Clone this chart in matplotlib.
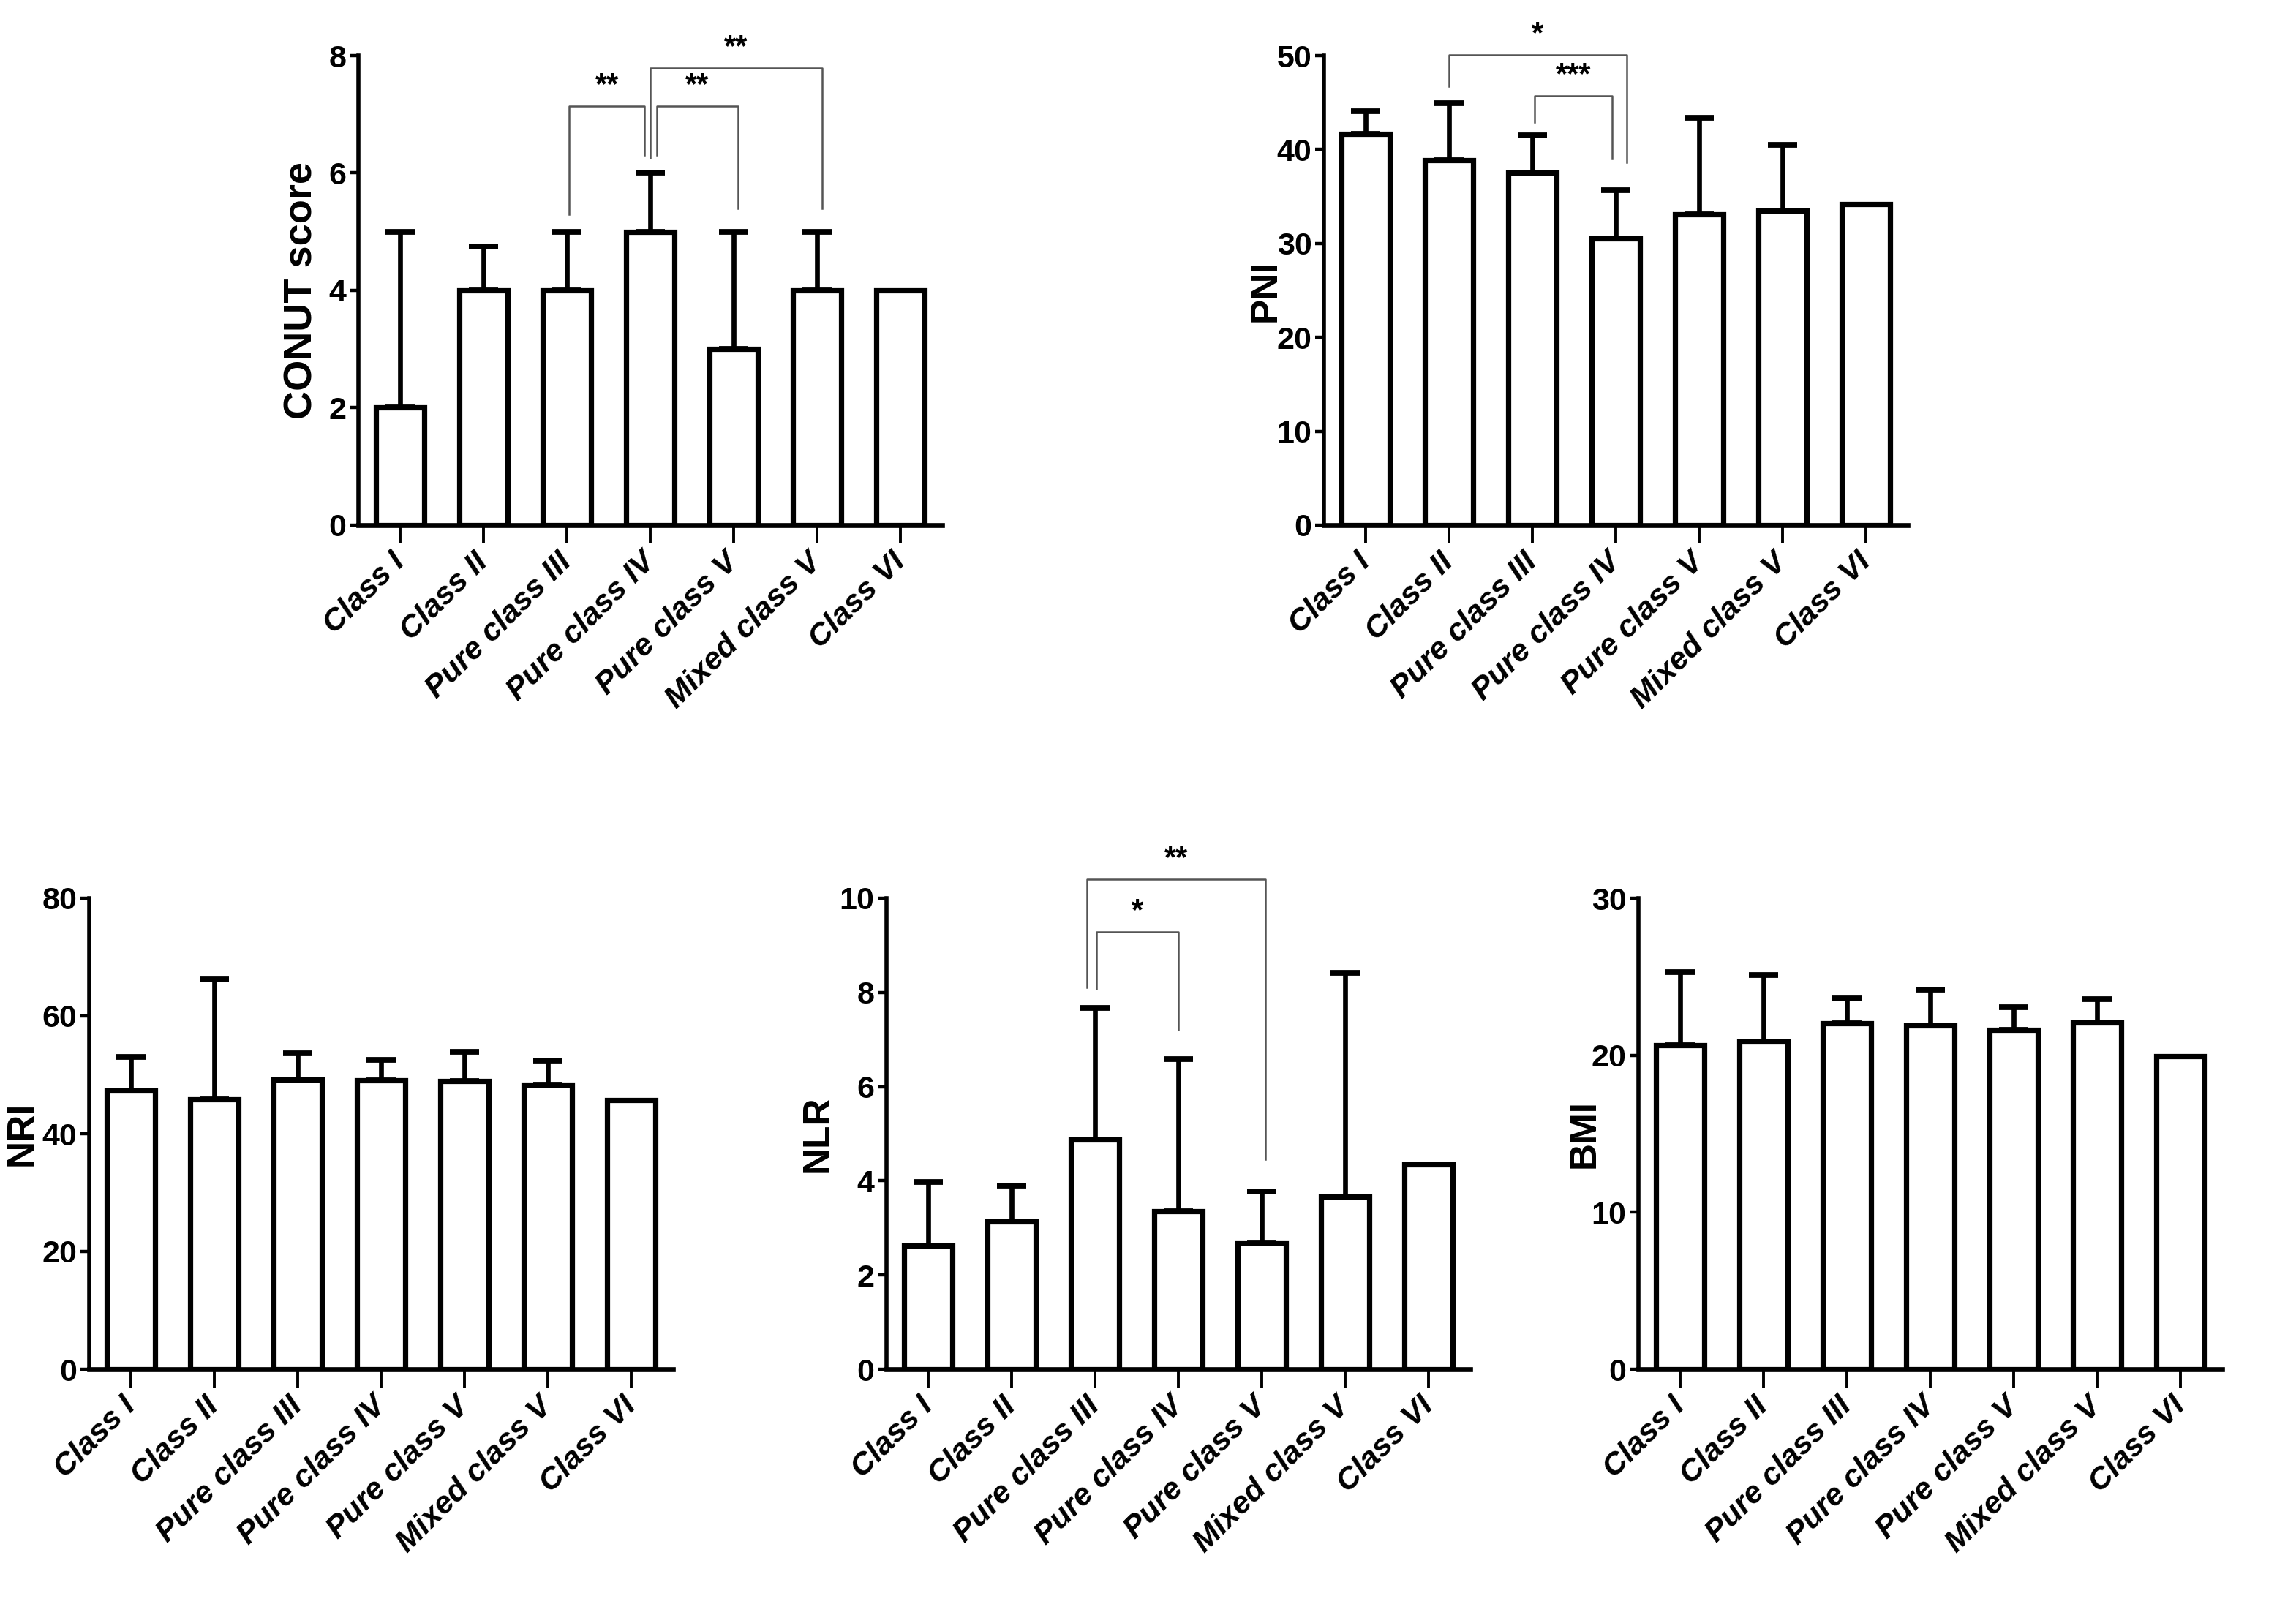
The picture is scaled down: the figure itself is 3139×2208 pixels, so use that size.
import matplotlib
matplotlib.use("Agg")
import matplotlib.pyplot as plt
from matplotlib import font_manager
import numpy as np

# narrow bold digits on the value axis if the narrow face is there
installed = {f.name for f in font_manager.fontManager.ttflist}
narrow = "Liberation Sans Narrow" in installed
tick_font = "Liberation Sans Narrow" if narrow else "Liberation Sans"
plt.rcParams["font.family"] = ["Liberation Sans", "DejaVu Sans"]

# group names along every x axis
classes = ["Class I", "Class II", "Pure class III", "Pure class IV",
           "Pure class V", "Mixed class V", "Class VI"]

# bar heights and top of the (upper only) error bars
conut_mean = [2, 4, 4, 5, 3, 4, 4]
conut_upper = [5, 4.75, 5, 6, 5, 5, 4]

pni_mean = [41.7, 38.9, 37.5, 30.5, 33.1, 33.5, 34.2]
pni_upper = [44.1, 44.9, 41.5, 35.7, 43.4, 40.5, 34.2]

nri_mean = [47.3, 45.8, 49.2, 49.1, 48.9, 48.3, 45.7]
nri_upper = [53.1, 66.2, 53.7, 52.6, 53.9, 52.4, 45.7]

nlr_mean = [2.62, 3.13, 4.87, 3.35, 2.69, 3.67, 4.35]
nlr_upper = [3.98, 3.90, 7.67, 6.58, 3.78, 8.42, 4.35]

bmi_mean = [20.65, 20.86, 22.04, 21.9, 21.6, 22.06, 19.95]
bmi_upper = [25.3, 25.1, 23.6, 24.2, 23.06, 23.55, 19.95]

# significance brackets: (x left, x right, top, left leg end, right leg end, stars)
conut_sig = [(2.03, 2.93, 7.14, 5.3, 6.3, "**"),
             (3.08, 4.05, 7.14, 6.3, 5.4, "**"),
             (3.0, 5.06, 7.79, 6.25, 5.4, "**")]
pni_sig = [(1.0, 3.13, 50.1, 46.7, 38.6, "*"),
           (2.03, 2.96, 45.7, 42.9, 39.0, "***")]
nlr_sig = [(1.90, 4.04, 10.4, 8.1, 4.45, "**"),
           (2.02, 3.0, 9.29, 8.08, 7.2, "*")]


def bar_panel(ax, mean, upper, ymax, ystep, ylabel, label_x, sig=(),
              label_size=18.5):
    x = np.arange(len(classes))
    mean = np.asarray(mean, dtype=float)
    upper = np.asarray(upper, dtype=float)

    ax.bar(x, mean, width=0.58, color="white", edgecolor="black",
           linewidth=2.6, zorder=2)
    err = np.vstack([np.zeros_like(mean), upper - mean])
    keep = err[1] > 0
    ax.errorbar(x[keep], mean[keep], yerr=err[:, keep], fmt="none",
                ecolor="black", elinewidth=2.4, capsize=7.2, capthick=2.8,
                zorder=3, clip_on=False)

    for xl, xr, top, yl, yr, stars in sig:
        ax.plot([xl, xl, xr, xr], [yl, top, top, yr], color="#555555",
                lw=0.9, clip_on=False, zorder=4)
        ax.text((xl + xr) / 2, top + 0.012 * ymax, stars, ha="center",
                va="bottom", fontsize=15, fontweight="bold")

    ax.set_xlim(-0.5, len(classes) - 0.5)
    ax.set_ylim(0, ymax)
    ax.set_yticks(np.arange(0, ymax + ystep / 2, ystep))
    ax.set_xticks(x)
    ax.set_xticklabels(classes, rotation=45, ha="right", va="center",
                       rotation_mode="anchor", fontweight="bold",
                       fontstyle="italic", fontsize=15.5)
    for lab in ax.get_yticklabels():
        lab.set_family(tick_font)
        lab.set_fontweight("bold")
        lab.set_fontsize(16 if narrow else 15.5)

    ax.spines["top"].set_visible(False)
    ax.spines["right"].set_visible(False)
    ax.spines["left"].set_linewidth(2.0)
    ax.spines["bottom"].set_linewidth(2.4)
    ax.tick_params(axis="y", length=4.5, width=1.6, pad=1.5)
    ax.tick_params(axis="x", length=9, width=1.4, pad=7)

    ax.set_ylabel(ylabel, fontweight="bold", fontsize=label_size)
    ax.yaxis.set_label_coords(label_x, 0.5)


fig = plt.figure(figsize=(15.695, 11.04), dpi=200)

W = 1569.5
H = 1104.0
aw = 399 / W
ah_top = 321 / H
ah_bot = 322 / H

ax1 = fig.add_axes([245 / W, 1 - 359 / H, aw, ah_top])
ax2 = fig.add_axes([905 / W, 1 - 359 / H, aw, ah_top])
ax3 = fig.add_axes([61 / W, 1 - 936 / H, aw, ah_bot])
ax4 = fig.add_axes([606 / W, 1 - 936 / H, aw, ah_bot])
ax5 = fig.add_axes([1120 / W, 1 - 936 / H, aw, ah_bot])

bar_panel(ax1, conut_mean, conut_upper, 8, 2, "CONUT score", -0.066,
          conut_sig, label_size=19.5)
bar_panel(ax2, pni_mean, pni_upper, 50, 10, "PNI", -0.069, pni_sig)
bar_panel(ax3, nri_mean, nri_upper, 80, 20, "NRI",
          -0.07 if narrow else -0.085)
bar_panel(ax4, nlr_mean, nlr_upper, 10, 2, "NLR", -0.087, nlr_sig)
bar_panel(ax5, bmi_mean, bmi_upper, 30, 10, "BMI", -0.062)

plt.savefig("out.png", dpi=200)
plt.close()
